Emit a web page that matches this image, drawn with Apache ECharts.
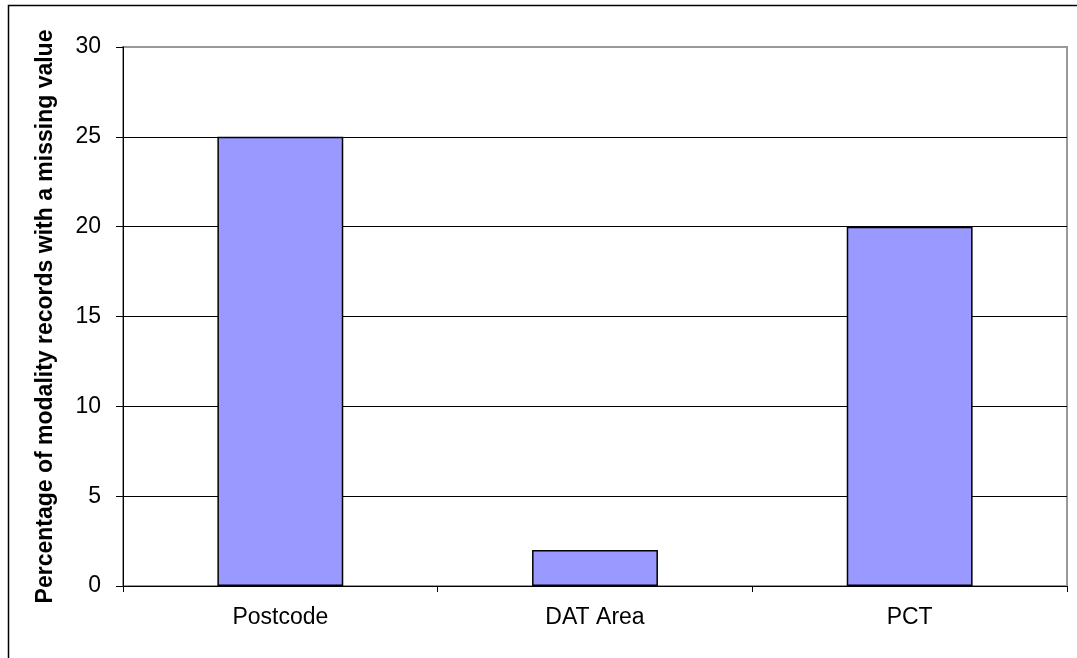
<!DOCTYPE html>
<html>
<head>
<meta charset="utf-8">
<script src="https://cdn.jsdelivr.net/npm/echarts@6/dist/echarts.min.js"></script>
<style>
  html, body { margin: 0; padding: 0; background: #fff; }
  #chart { width: 1077px; height: 658px; }
</style>
</head>
<body>
<div id="chart"></div>
<script>
const categories = ['Postcode', 'DAT Area', 'PCT']
const missingPct = [25, 2, 20]
const yTicks = { min: 0, max: 30, interval: 5 }

const chart = echarts.init(document.getElementById('chart'))

const font = 'Arial, "Liberation Sans", sans-serif'

chart.setOption({
  animation: false,
  backgroundColor: '#fff',
  graphic: [
    {
      type: 'rect',
      shape: { x: 8.5, y: 5.5, width: 1200, height: 800 },
      style: { fill: 'none', stroke: '#000', lineWidth: 1.5 },
      silent: true
    },
    {
      type: 'rect',
      shape: { x: 123, y: 47, width: 944, height: 539 },
      style: { fill: 'none', stroke: '#999', lineWidth: 2 },
      silent: true,
      z: -1
    }
  ],
  grid: { left: 123, right: 10, top: 47, bottom: 72, containLabel: false },
  xAxis: {
    type: 'category',
    data: categories,
    axisLine: { lineStyle: { color: '#000', width: 1 } },
    axisTick: { show: true, length: 6, lineStyle: { color: '#000' } },
    axisLabel: { color: '#000', fontSize: 23, fontFamily: font, margin: 20 }
  },
  yAxis: {
    type: 'value',
    min: yTicks.min,
    max: yTicks.max,
    interval: yTicks.interval,
    name: 'Percentage of modality records with a missing value',
    nameLocation: 'middle',
    nameGap: 66,
    nameTextStyle: { color: '#000', fontSize: 23, fontWeight: 'bold', fontFamily: font },
    axisLine: { show: true, lineStyle: { color: '#000', width: 1 } },
    axisTick: { show: true, length: 7, lineStyle: { color: '#000' } },
    axisLabel: { color: '#000', fontSize: 23, fontFamily: font, margin: 22 },
    splitLine: { show: true, showMaxLine: false, lineStyle: { color: '#000', width: 1 } }
  },
  series: [
    {
      type: 'bar',
      data: missingPct,
      barWidth: '40%',
      itemStyle: { color: '#9999ff', borderColor: '#000', borderWidth: 1.5 }
    }
  ]
})
</script>
</body>
</html>
